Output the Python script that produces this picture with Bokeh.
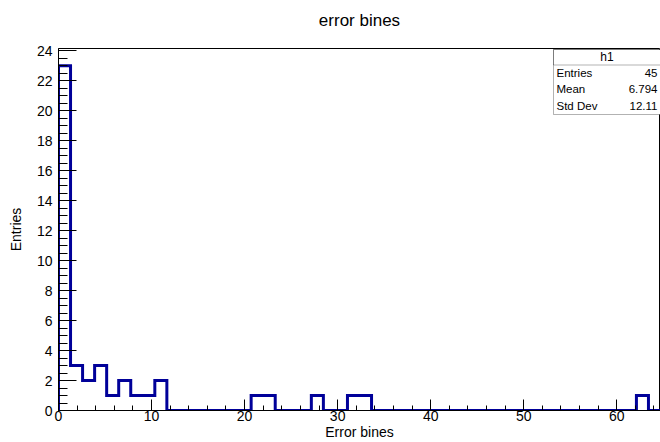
import numpy as np
from bokeh.plotting import figure
from bokeh.models import Range1d, FixedTicker, BoxAnnotation, Label, LinearAxis
from bokeh.embed import file_html
from bokeh.resources import INLINE

# ---- data ----
n_bins = 50
bin_width = 1.294
counts = [23, 3, 2, 3, 1, 2, 1, 1, 2, 0,
          0, 0, 0, 0, 0, 0, 1, 1, 0, 0,
          0, 1, 0, 0, 1, 1, 0, 0, 0, 0,
          0, 0, 0, 0, 0, 0, 0, 0, 0, 0,
          0, 0, 0, 0, 0, 0, 0, 0, 1, 0]
x_major_ticks = [0, 10, 20, 30, 40, 50, 60]
y_major_ticks = [0, 2, 4, 6, 8, 10, 12, 14, 16, 18, 20, 22, 24]
stats_names = ["Entries", "Mean", "Std Dev"]
stats_values = ["45", "6.794", "12.11"]
hist_name = "h1"
title_text = "error bines"
x_title = "Error bines"
y_title = "Entries"

FONT = "Liberation Sans"

edges = np.arange(n_bins + 1) * bin_width
x_max = edges[-1]
y_max = max(counts) * 1.05

# step outline
xs = [edges[0]]
ys = [0]
for i, c in enumerate(counts):
    xs += [edges[i], edges[i + 1]]
    ys += [c, c]
xs.append(edges[-1])
ys.append(0)

W, H = 660, 442
BL, BR, BT, BB = 58, 0, 48, 32

p = figure(width=W, height=H, output_backend="svg", toolbar_location=None,
           x_range=Range1d(0, x_max), y_range=Range1d(0, y_max),
           min_border_left=BL, min_border_right=BR,
           min_border_top=BT, min_border_bottom=BB)
p.background_fill_color = "white"
p.border_fill_color = "white"
p.outline_line_color = "black"
p.outline_line_width = 1
p.grid.visible = False

p.line(xs, ys, line_color="#000099", line_width=3, line_join="miter")

# axes styling
xa = p.xaxis[0]
xa.ticker = FixedTicker(ticks=x_major_ticks,
                        minor_ticks=list(np.arange(0, x_max, 2.0)))
xa.major_tick_in = 11
xa.major_tick_out = 0
xa.minor_tick_in = 5
xa.minor_tick_out = 0
xa.major_label_standoff = 0
xa.axis_label = x_title
xa.axis_label_standoff = 0

ya = p.yaxis[0]
ya.ticker = FixedTicker(ticks=y_major_ticks,
                        minor_ticks=list(np.arange(0, y_max, 0.5)))
ya.major_tick_in = 18
ya.major_tick_out = 0
ya.minor_tick_in = 9
ya.minor_tick_out = 0
ya.major_label_standoff = 6
ya.axis_label = y_title
ya.axis_label_standoff = 10

# title drawn as the label of a bare axis above the frame
ta = LinearAxis(ticker=FixedTicker(ticks=[], minor_ticks=[]),
                axis_line_color=None, major_tick_line_color=None,
                minor_tick_line_color=None, major_label_standoff=0,
                major_tick_in=0, major_tick_out=0,
                minor_tick_in=0, minor_tick_out=0,
                axis_label=title_text, axis_label_standoff=19,
                axis_label_text_font=FONT, axis_label_text_font_size="17px",
                axis_label_text_font_style="normal",
                axis_label_text_color="black")
p.add_layout(ta, "above")

for ax in (xa, ya):
    ax.axis_line_color = "black"
    ax.major_tick_line_color = "black"
    ax.minor_tick_line_color = "black"
    ax.major_label_text_font = FONT
    ax.major_label_text_font_size = "14px"
    ax.major_label_text_color = "black"
    ax.axis_label_text_font = FONT
    ax.axis_label_text_font_size = "14px"
    ax.axis_label_text_font_style = "normal"
    ax.axis_label_text_color = "black"

# ---- helpers: pixel offsets relative to the frame -> data coordinates ----
frame_w = W - BL - BR
frame_h = H - BT - BB


def dx(px):  # px from frame left
    return px / frame_w * x_max


def dy(py):  # py from frame top
    return y_max - py / frame_h * y_max


# ---- stats box ----
box_left, box_top, box_bottom, header_h = 495, 1, 66, 15.5
p.add_layout(BoxAnnotation(left=dx(box_left), right=x_max,
                           top=dy(box_top), bottom=dy(box_bottom),
                           fill_color="white", fill_alpha=1.0,
                           line_color="black", line_width=1, level="overlay"))
p.add_layout(BoxAnnotation(left=dx(box_left), right=x_max,
                           top=dy(box_top), bottom=dy(box_top + header_h),
                           fill_alpha=0.0,
                           line_color="black", line_width=1, level="overlay"))
p.add_layout(Label(x=dx((box_left + frame_w) / 2), y=dy(box_top + header_h / 2),
                   text=hist_name, text_align="center", text_baseline="middle",
                   text_font=FONT, text_font_size="12px", text_color="black",
                   level="overlay"))
row_h = (box_bottom - box_top - header_h) / len(stats_names)
for i, (n, v) in enumerate(zip(stats_names, stats_values)):
    yy = dy(box_top + header_h + row_h * (i + 0.5) - 0.5)
    p.add_layout(Label(x=dx(box_left + 3), y=yy, text=n, text_align="left",
                       text_baseline="middle", text_font=FONT,
                       text_font_size="11.5px", text_color="black", level="overlay"))
    p.add_layout(Label(x=dx(frame_w - 3), y=yy, text=v, text_align="right",
                       text_baseline="middle", text_font=FONT,
                       text_font_size="11.5px", text_color="black", level="overlay"))

open("out.html", "w").write(file_html(p, INLINE))
